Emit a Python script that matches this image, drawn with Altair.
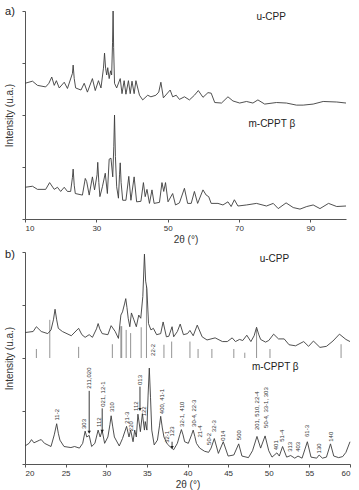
import altair as alt
import pandas as pd

FONT = "Liberation Sans"
LINE = "#3c3c3c"

# ---------------- panel a : 2theta 10-100, (2theta, intensity) ----------------
a_u = [(10, 2.61), (12.1, 2.65), (13.5, 2.57), (15.8, 2.54), (16.7, 2.61), (17.5, 2.73), (18.2, 2.57),
       (18.8, 2.66), (19.6, 2.52), (21.0, 2.63), (21.9, 2.51), (23.3, 2.80), (23.5, 2.96), (23.8, 2.70),
       (24.2, 2.52), (25.7, 2.48), (26.6, 2.61), (27.5, 2.44), (28.9, 2.70), (29.7, 2.47), (30.6, 2.66),
       (31.3, 2.52), (32.0, 2.90), (32.3, 3.19), (32.6, 2.90), (32.9, 2.77), (33.2, 2.91), (33.6, 2.70),
       (34.0, 2.85), (34.3, 2.77), (34.55, 3.40), (34.7, 4.0), (34.85, 3.30), (35.1, 2.61), (35.7, 2.52),
       (36.7, 2.70), (37.2, 2.41), (37.8, 2.66), (38.3, 2.40), (39.0, 2.66), (39.5, 2.41), (40.0, 2.65),
       (40.6, 2.41), (41.1, 2.66), (42.1, 2.38), (43.0, 2.29), (44.4, 2.38), (45.3, 2.35), (46.7, 2.38),
       (47.5, 2.44), (48.1, 2.63), (48.8, 2.33), (50.7, 2.48), (51.4, 2.35), (52.4, 2.38), (53.3, 2.30),
       (54.7, 2.35), (56.1, 2.29), (57.5, 2.38), (58.6, 2.47), (59.9, 2.34), (61.3, 2.43), (62.2, 2.42),
       (63.2, 2.24), (65.1, 2.23), (66.9, 2.35), (68.3, 2.27), (70.2, 2.23), (72.1, 2.26), (73.9, 2.23),
       (75.3, 2.29), (77.2, 2.21), (80.5, 2.24), (83.3, 2.23), (86.1, 2.19), (88.0, 2.19), (90.8, 2.21),
       (93.6, 2.26), (97.4, 2.25), (100, 2.23)]

a_m = [(10, 0.61), (12.1, 0.63), (13.5, 0.57), (15.8, 0.57), (16.9, 0.70), (18.2, 0.57), (19.1, 0.61),
       (20.0, 0.53), (21.0, 0.61), (21.9, 0.53), (22.8, 0.53), (23.3, 0.80), (23.5, 0.96), (23.8, 0.65),
       (24.1, 0.49), (26.1, 0.46), (26.9, 0.78), (27.3, 0.72), (28.0, 0.46), (28.9, 0.81), (29.5, 0.56),
       (30.2, 0.85), (30.4, 1.09), (30.7, 0.70), (31.0, 0.43), (31.7, 0.62), (32.5, 0.88), (33.1, 0.49),
       (33.6, 1.15), (34.1, 1.17), (34.6, 0.81), (34.9, 1.40), (35.1, 2.0), (35.35, 1.20), (35.7, 0.62),
       (36.2, 0.40), (36.5, 0.85), (36.7, 1.08), (36.95, 0.70), (37.4, 0.36), (38.3, 0.36), (39.1, 0.82),
       (39.7, 0.36), (40.6, 0.81), (41.3, 0.33), (42.5, 0.34), (43.2, 0.70), (43.7, 0.43), (44.2, 0.57),
       (44.9, 0.30), (45.6, 0.56), (46.2, 0.30), (47.7, 0.32), (48.4, 0.70), (48.9, 0.53), (49.4, 0.70),
       (50.1, 0.33), (51.4, 0.49), (52.2, 0.27), (53.3, 0.31), (54.7, 0.59), (55.6, 0.30), (56.6, 0.30),
       (57.5, 0.53), (58.4, 0.30), (59.9, 0.56), (60.8, 0.46), (61.5, 0.43), (62.2, 0.30), (64.1, 0.30),
       (65.5, 0.27), (66.9, 0.33), (67.8, 0.24), (68.7, 0.37), (69.7, 0.25), (72.1, 0.27), (74.9, 0.30),
       (77.7, 0.25), (79.6, 0.30), (81.0, 0.20), (83.2, 0.31), (85.2, 0.22), (87.1, 0.19), (89.0, 0.24),
       (90.8, 0.27), (92.7, 0.20), (95.1, 0.30), (97.4, 0.24), (100, 0.25)]

# ---------------- panel b : 2theta 20-60 ----------------
b_u = [(20.0, 2.48), (21.0, 2.50), (21.4, 2.59), (22.0, 2.50), (22.8, 2.46), (23.2, 2.53), (23.5, 2.72),
       (23.7, 2.92), (23.9, 2.72), (24.1, 2.56), (24.6, 2.50), (25.7, 2.42), (26.6, 2.56), (27.0, 2.44),
       (27.4, 2.39), (27.9, 2.44), (28.3, 2.39), (28.8, 2.55), (29.0, 2.65), (29.2, 2.55), (29.5, 2.46),
       (30.2, 2.44), (30.6, 2.61), (31.1, 2.50), (31.5, 2.37), (31.8, 2.81), (32.0, 2.87), (32.25, 3.02),
       (32.4, 3.12), (32.55, 2.95), (32.7, 2.75), (32.9, 2.59), (33.1, 2.85), (33.4, 2.72), (33.7, 2.59),
       (34.0, 2.81), (34.25, 2.75), (34.5, 3.16), (34.7, 3.96), (34.85, 3.45), (35.0, 3.31), (35.2, 2.65),
       (35.5, 2.53), (35.8, 2.56), (36.2, 2.44), (36.7, 2.46), (37.0, 2.68), (37.4, 2.40), (37.7, 2.41),
       (38.1, 2.59), (38.3, 2.40), (38.75, 2.50), (39.1, 2.64), (39.5, 2.44), (40.0, 2.46), (40.3, 2.52),
       (40.7, 2.42), (41.2, 2.62), (41.8, 2.40), (42.4, 2.34), (43.4, 2.38), (44.3, 2.31), (44.9, 2.31),
       (45.5, 2.38), (45.9, 2.31), (46.4, 2.35), (46.8, 2.33), (47.3, 2.43), (47.8, 2.31), (48.2, 2.42),
       (48.5, 2.58), (48.75, 2.45), (49.0, 2.35), (49.6, 2.30), (50.0, 2.33), (50.6, 2.45), (51.2, 2.36),
       (51.9, 2.36), (52.5, 2.25), (53.3, 2.23), (54.3, 2.31), (54.9, 2.22), (55.5, 2.32), (56.3, 2.20),
       (57.1, 2.22), (57.9, 2.32), (58.7, 2.45), (59.5, 2.35), (60.0, 2.31)]

b_m = [(20.0, 0.34), (20.5, 0.39), (20.8, 0.46), (21.1, 0.40), (21.8, 0.45), (22.0, 0.46), (22.4, 0.39),
       (23.2, 0.33), (23.6, 0.55), (23.9, 0.76), (24.1, 0.58), (24.3, 0.45), (24.8, 0.33), (25.65, 0.31),
       (26.1, 0.33), (26.7, 0.30), (27.1, 0.39), (27.4, 0.62), (27.6, 0.51), (27.9, 0.54), (28.2, 0.33),
       (28.6, 0.39), (29.0, 0.64), (29.25, 0.51), (29.5, 0.63), (29.8, 0.39), (30.2, 0.51), (30.45, 0.74),
       (30.6, 0.91), (30.8, 0.70), (31.0, 0.51), (31.6, 0.34), (32.0, 0.48), (32.5, 0.71), (32.8, 0.51),
       (33.0, 0.64), (33.3, 0.42), (33.5, 0.64), (33.7, 0.51), (33.9, 0.94), (34.2, 0.61), (34.45, 0.95),
       (34.7, 0.64), (34.8, 0.80), (35.0, 0.64), (35.15, 1.30), (35.3, 1.81), (35.45, 1.25), (35.6, 0.64),
       (35.9, 0.36), (36.3, 0.45), (36.55, 0.72), (36.7, 0.90), (36.9, 0.68), (37.1, 0.51), (37.5, 0.38),
       (37.9, 0.32), (38.3, 0.27), (38.75, 0.39), (39.05, 0.55), (39.25, 0.65), (39.45, 0.55), (39.65, 0.42),
       (40.1, 0.39), (40.5, 0.55), (40.7, 0.64), (40.9, 0.52), (41.1, 0.39), (41.5, 0.30), (42.1, 0.24),
       (42.6, 0.22), (42.9, 0.30), (43.3, 0.48), (43.8, 0.20), (44.4, 0.42), (45.0, 0.15), (45.7, 0.17),
       (46.3, 0.38), (46.7, 0.15), (47.5, 0.12), (48.0, 0.25), (48.55, 0.52), (49.0, 0.30), (49.55, 0.53),
       (50.0, 0.25), (50.4, 0.13), (51.0, 0.21), (51.3, 0.15), (51.7, 0.33), (52.2, 0.13), (52.7, 0.16),
       (53.2, 0.11), (53.6, 0.15), (54.1, 0.11), (54.75, 0.42), (55.2, 0.13), (55.9, 0.11), (56.2, 0.17),
       (56.6, 0.11), (57.1, 0.13), (57.6, 0.38), (58.0, 0.15), (58.6, 0.12), (59.1, 0.14), (59.5, 0.22),
       (60.0, 0.42)]

# reference stick pattern (u-CPP), drawn from y = 2 upward
stick_x = [21.4, 23.05, 26.6, 30.75, 31.8, 31.9, 32.45, 33.0, 34.3, 34.95, 37.1, 38.05, 40.3, 41.3,
           43.0, 45.7, 47.05, 48.5, 50.15, 58.9]
stick_top = [2.17, 2.72, 2.21, 2.26, 2.60, 2.60, 2.53, 2.47, 2.58, 3.36, 2.25, 2.31, 2.31, 2.17,
             2.17, 2.17, 2.10, 2.55, 2.17, 2.26]

# hkl labels of m-CPPT beta
lab_x = [23.9, 27.3, 27.9, 29.1, 29.6, 30.7, 32.5, 33.0, 33.6, 34.1, 34.7, 35.8, 36.8, 37.5, 38.1,
         39.3, 40.8, 41.5, 42.6, 43.2, 44.4, 46.3, 48.55, 49.6, 50.9, 51.6, 52.6, 53.6, 54.7, 56.2,
         57.6]
lab_y = [0.82, 0.66, 1.42, 0.70, 1.08, 0.98, 0.76, 0.62, 1.0, 1.49, 0.90, 2.04, 0.94, 0.40, 0.52,
         0.70, 0.70, 0.50, 0.36, 0.60, 0.44, 0.45, 0.64, 0.68, 0.26, 0.42, 0.23, 0.23, 0.51, 0.20,
         0.42]
lab_t = ["11-2", "303", "211,020", "112", "021, 12-1", "310", "21-3", "220", "112", "013", "122",
         "22-2", "400, 41-1", "32-1", "123", "32-1, 410", "30-4, 22-3", "21-4", "50-2", "32-3",
         "014", "500", "201, 510, 22-4", "50-4, 33-1, 303", "401", "51-4", "313", "403", "61-3",
         "130", "140"]

arr_x = [27.9, 29.5, 34.15, 38.1]
arr_top = [1.38, 1.05, 1.46, 0.42]
arr_tip = [0.60, 0.62, 1.03, 0.31]


def curve_df(name, pts):
    return pd.DataFrame({"x": [p[0] for p in pts], "y": [p[1] for p in pts], "s": name})


a_df = pd.concat([curve_df("u-CPP", a_u), curve_df("m-CPPT", a_m)])
b_df = pd.concat([curve_df("u-CPP", b_u), curve_df("m-CPPT", b_m)])
stick_df = pd.DataFrame({"x": stick_x, "top": stick_top, "base": [2.0] * len(stick_x)})
lab_df = pd.DataFrame({"x": lab_x, "y": lab_y, "t": lab_t})
arr_df = pd.DataFrame({"x": arr_x, "top": arr_top, "tip": arr_tip})


def axes(domain, step):
    xs = alt.Scale(domain=domain, nice=False, zero=False)
    ys = alt.Scale(domain=[0, 4], nice=False, zero=False)
    xa = alt.Axis(values=list(range(domain[0], domain[1] + 1, step)), title="2θ (°)",
                  labelPadding=2, titlePadding=2)
    ya = alt.Axis(values=[0, 1, 2, 3, 4], labels=False, title="Intensity (u.a.)", titlePadding=7)
    return xs, ys, xa, ya


def series_text(df, size=10):
    return alt.Chart(df).mark_text(font=FONT, fontSize=size, color="#222").encode(
        x=alt.X("x:Q"), y=alt.Y("y:Q"), text="t:N")


# panel a
xs, ys, xa, ya = axes([10, 100], 10)
a_lines = alt.Chart(a_df).mark_line(color=LINE, strokeWidth=0.9).encode(
    x=alt.X("x:Q", scale=xs, axis=xa),
    y=alt.Y("y:Q", scale=ys, axis=ya),
    detail="s:N",
)
a_names = series_text(pd.DataFrame({"x": [79.0, 79.2], "y": [3.88, 1.83], "t": ["u-CPP", "m-CPPT β"]}))
a_tag = alt.Chart(pd.DataFrame({"t": ["a)"]})).mark_text(
    font=FONT, fontSize=11, color="#222").encode(x=alt.value(-15), y=alt.value(1), text="t:N")
panel_a = alt.layer(a_lines, a_names, a_tag).properties(width=321, height=208)

# panel b
xs, ys, xa, ya = axes([20, 60], 5)
b_lines = alt.Chart(b_df).mark_line(color=LINE, strokeWidth=0.9).encode(
    x=alt.X("x:Q", scale=xs, axis=xa),
    y=alt.Y("y:Q", scale=ys, axis=ya),
    detail="s:N",
)
b_sticks = alt.Chart(stick_df).mark_rule(color="#777", strokeWidth=0.8).encode(
    x="x:Q", y="base:Q", y2="top:Q")
b_labels = alt.Chart(lab_df).mark_text(
    font=FONT, fontSize=6, color="#333", angle=270, align="left", baseline="middle").encode(
    x="x:Q", y="y:Q", text="t:N")
b_arrows = alt.Chart(arr_df).mark_rule(color="#222", strokeWidth=0.9).encode(
    x="x:Q", y="top:Q", y2="tip:Q")
b_heads = alt.Chart(arr_df).mark_point(shape="triangle-down", filled=True, size=12,
                                       color="#222", opacity=1).encode(x="x:Q", y="tip:Q")
b_names = series_text(pd.DataFrame({"x": [50.7, 50.8], "y": [3.87, 1.83], "t": ["u-CPP", "m-CPPT β"]}))
b_tag = alt.Chart(pd.DataFrame({"t": ["b)"]})).mark_text(
    font=FONT, fontSize=11, color="#222").encode(x=alt.value(-15), y=alt.value(3), text="t:N")
panel_b = alt.layer(b_sticks, b_lines, b_labels, b_arrows, b_heads, b_names, b_tag).properties(
    width=325, height=212)

chart = alt.vconcat(panel_a, panel_b, spacing=33, bounds="flush").properties(
    padding={"left": 4, "top": 6, "right": 5, "bottom": 5}
).configure_view(stroke=None).configure_axis(
    grid=False, domainColor="#555", tickColor="#555", domainWidth=1, tickWidth=1, tickSize=3,
    labelFont=FONT, titleFont=FONT, labelFontSize=8, titleFontSize=10, titleFontWeight="normal",
    labelColor="#333", titleColor="#333",
)

chart.save("out.html", embed_options={"renderer": "svg", "actions": False})
